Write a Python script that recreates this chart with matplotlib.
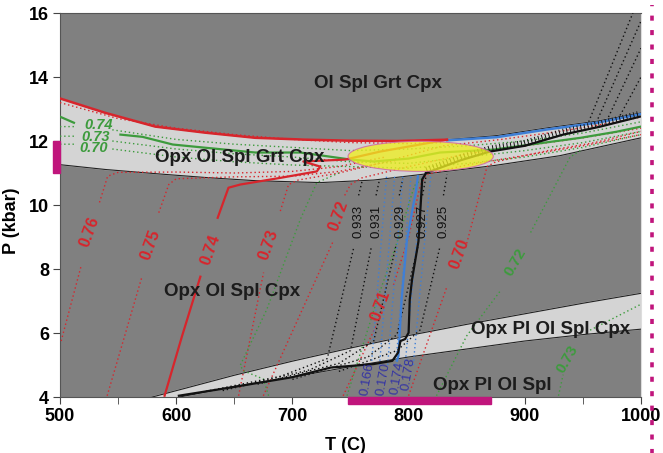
import numpy as np
import matplotlib
matplotlib.use("Agg")
import matplotlib.pyplot as plt
import matplotlib.patheffects as pe
from matplotlib.patches import Ellipse, Rectangle

plt.rcParams["font.family"] = ["Liberation Sans", "DejaVu Sans"]

BG = "#808080"
BAND = "#d4d4d4"
RED = "#d7252c"
GREEN = "#3d9b3d"
BLUE = "#3f7fd6"
LBL_BLUE = "#3434a4"
MAGENTA = "#c0157c"
TXT = "#1c1c1c"
nan = np.nan

# ---- phase field boundaries (T in C, P in kbar)
grt_top_T = [500, 539, 582, 625, 668, 713, 750, 790, 833, 876, 919, 962, 1000]
grt_top_P = [13.33, 12.88, 12.45, 12.26, 12.10, 12.04, 12.01, 12.0, 12.04, 12.17, 12.41, 12.62, 12.88]
grt_bot_T = [500, 539, 582, 625, 668, 724, 770, 810, 873, 930, 1000]
grt_bot_P = [11.26, 11.11, 10.98, 10.86, 10.76, 10.70, 10.78, 10.95, 11.23, 11.54, 12.10]

pl_top_T = [579.5, 650, 700, 750, 800, 850, 900, 950, 1000]
pl_top_P = [4.0, 4.68, 5.12, 5.53, 5.92, 6.27, 6.6, 6.93, 7.24]
pl_bot_T = [603, 650, 700, 750, 800, 850, 900, 950, 1000]
pl_bot_P = [4.0, 4.33, 4.62, 4.95, 5.25, 5.5, 5.75, 5.95, 6.12]

# ---- red isopleths (dotted), label gaps as nan
red_iso = {
    "0.76": ([501, 518, nan, 534, 541, 550, 600, 650, 700, 740, 780],
             [5.75, 8.07, nan, 10.08, 10.9, 11.02, 11.03, 11.0, 11.05, 11.2, 11.5]),
    "0.75": ([540.6, 570.7, nan, 585, 593.6, 600, 650, 700, 740, 790],
             [4.04, 7.78, nan, 9.76, 10.64, 10.82, 10.88, 10.9, 11.05, 11.4]),
    "0.73": ([653.7, 675.2, nan, 689.6, 696.7, 705, 740, 780, 830, 880, 930, 980, 1000],
             [4.04, 7.89, nan, 9.81, 10.64, 10.78, 11.0, 11.35, 11.85, 12.05, 12.3, 12.6, 12.75]),
    "0.72": ([675, 735, nan, 745, 750, 760, 800, 850, 900, 950, 1000],
             [4.04, 8.86, nan, 10.3, 10.64, 10.85, 11.2, 11.6, 11.85, 12.1, 12.4]),
    "0.71": ([743.7, 773, nan, 787, 800, 810, 815, 850, 900, 950, 1000],
             [4.04, 6.3, nan, 7.5, 9.0, 10.6, 10.95, 11.25, 11.55, 11.85, 12.2]),
    "0.70": ([800, 833, nan, 850, 867.5, 875, 920, 960, 1000],
             [4.04, 7.45, nan, 8.8, 11.2, 11.35, 11.7, 11.95, 12.3]),
}
red_top_T = [500, 550, 600, 650, 700, 750, 800, 830]
red_top_P = [13.2, 12.7, 12.4, 12.2, 12.05, 11.95, 11.92, 11.95]
red_lbl = {"0.76": (525, 9.17), "0.75": (577.6, 8.77), "0.74": (629.5, 8.61),
           "0.73": (679, 8.77), "0.72": (739.5, 9.67), "0.71": (775.6, 6.84),
           "0.70": (844, 8.46)}

# measured red solid contour
red_sol_T = [590, 605, 620.8, nan, 635.7, 645, 655.2, 690, 721, 724, 709.4, 745.5, 775.6, 833]
red_sol_P = [4.04, 5.9, 7.76, nan, 9.6, 10.54, 10.64, 10.85, 11.05, 11.2, 11.36, 11.42, 11.67, 12.04]
red_bound_T = [500, 539, 582, 625, 668, 713, 750, 790, 833]
red_bound_P = [13.33, 12.88, 12.45, 12.26, 12.10, 12.04, 12.01, 12.0, 12.04]

# ---- green isopleths
green_sol_T = [500, 512, nan, 552, 571, 597, 625, 668, 707, 750, 770, 800, 827, 873, 905, 948, 979, 1000]
green_sol_P = [12.76, 12.57, nan, 12.2, 12.13, 11.89, 11.79, 11.64, 11.64, 11.42, 11.36, 11.45, 11.64, 11.73, 11.89, 12.1, 12.29, 12.45]
green_band_T = [500, 512, nan, 545, 600, 650, 700, 750, 800, 850, 900, 950, 1000]
green_band_P = [
    [12.45, 12.45, nan, 12.35, 12.05, 11.9, 11.8, 11.7, 11.75, 11.85, 12.0, 12.25, 12.6],
    [12.15, 12.15, nan, 12.0, 11.75, 11.6, 11.5, 11.35, 11.3, 11.5, 11.7, 11.95, 12.3],
    [11.9, 11.9, nan, 11.75, 11.5, 11.35, 11.25, 11.2, 11.15, 11.3, 11.5, 11.8, 12.2],
]
green_iso = [
    ([679.5, 675, 658, 655, 678, 706.8, 721, 740], [4.04, 4.56, 4.82, 4.98, 6.74, 9.55, 10.7, 11.0]),
    ([747, 773, 790, 805, 815], [4.04, 7.05, 8.83, 10.6, 10.95]),
    ([824, 850, 878.8, nan, 905, 939, 950], [4.04, 5.91, 7.31, nan, 9.14, 11.5, 11.75]),
    ([929, 933, nan, 953, 1000], [4.04, 4.7, nan, 6.03, 6.9]),
]
green_lbl = {"0.72": (891.5, 8.2), "0.73": (937, 5.18)}
green_band_lbl = {"0.74": (533, 12.5), "0.73": (530.6, 12.13), "0.70": (529, 11.78)}

# ---- black isopleths (Mg#) and measured black contour
blk_iso = {
    "0.933": ([615, 690, 730, 753, nan, 757, 760], [4.1, 4.65, 5.2, 8.7, nan, 10.3, 10.75]),
    "0.931": ([640, 715, 750, 768, nan, 772, 775], [4.2, 4.85, 5.45, 8.7, nan, 10.3, 10.8]),
    "0.929": ([670, 740, 770, 789, nan, 792, 795], [4.4, 5.05, 5.75, 8.7, nan, 10.3, 10.82]),
    "0.927": ([700, 765, 790, 808, nan, 812, 815], [4.55, 5.25, 5.95, 8.7, nan, 10.3, 10.9]),
    "0.925": ([740, 790, 810, 827, nan, 830, 833], [4.8, 5.45, 6.1, 8.7, nan, 10.3, 10.95]),
}
blk_lbl_T = [756.7, 772, 792.7, 811.6, 829.7]
blk_steep = [([955, 993], [12.6, 16.0]), ([963, 1000], [12.7, 15.75]),
             ([972, 1000], [12.75, 14.9]), ([982, 1000], [12.8, 14.0])]
blk_sol_T = [602.3, 649, 700, 733, 770, 786, 791, 793, 797, 800, 801, 803, 808.5, 811.7, 815]
blk_sol_P = [4.04, 4.31, 4.62, 4.92, 5.03, 5.13, 5.39, 5.75, 5.81, 6.01, 7.05, 7.68, 8.87, 10.8, 11.0]
blk_hatch_T = [815, 845, 870, 900, 933, 965, 999]
blk_hatch_P = [11.0, 11.4, 11.67, 11.85, 12.2, 12.45, 12.76]

# ---- blue isopleths
blue_iso_T0 = [768, 775, 782, 789, 797, 804]
blue_iso_T1 = [781, 788, 795, 802, 812, 819]
blue_lbl = {"0.166": (765, 4.56), "0.170": (778, 4.56), "0.174": (790, 4.6), "0.178": (800, 4.7)}
blue_sol_T = [790, 791.3, 794, 798.5, 804, 806, 808]
blue_sol_P = [5.13, 5.29, 7.05, 8.87, 10.0, 10.35, 10.9]
blue_top_T = [833, 876, 919, 962, 1000]
blue_top_P = [12.02, 12.12, 12.36, 12.57, 12.84]

# ---- phase assemblage labels
fields = [("Ol Spl Grt Cpx", 774, 13.8), ("Opx Ol Spl Grt Cpx", 655, 11.5),
          ("Opx Ol Spl Cpx", 648.5, 7.3), ("Opx Pl Ol Spl Cpx", 922, 6.12),
          ("Opx Pl Ol Spl", 872, 4.37)]

# ---- estimated conditions
ellipse_c = (810.4, 11.52)
ellipse_wh = (125, 0.94)
t_range = (748, 871)
p_range = (11.0, 12.0)
bracket_T = 1009.5

fig = plt.figure(figsize=(6.63, 4.53), dpi=100)
ax = fig.add_axes([60 / 663, 56 / 453, 581 / 663, 384 / 453])
ax.set_facecolor(BG)
ax.set_xlim(500, 1000)
ax.set_ylim(4, 16)

# light fields
ax.fill(grt_top_T + grt_bot_T[::-1], grt_top_P + grt_bot_P[::-1], color=BAND, zorder=1)
ax.fill(pl_top_T + pl_bot_T[::-1], pl_top_P + pl_bot_P[::-1], color=BAND, zorder=1)
for T, P in [(grt_top_T, grt_top_P), (grt_bot_T, grt_bot_P), (pl_top_T, pl_top_P), (pl_bot_T, pl_bot_P)]:
    ax.plot(T, P, color="#222222", lw=0.8, zorder=2)

dot = (0, (1, 2))
for T, P in red_iso.values():
    ax.plot(T, P, color=RED, lw=1.0, ls=dot, zorder=3)
ax.plot(red_top_T, red_top_P, color=RED, lw=1.0, ls=dot, zorder=3)
for T, P in green_iso:
    ax.plot(T, P, color=GREEN, lw=1.0, ls=dot, zorder=3)
for P in green_band_P:
    ax.plot(green_band_T, P, color=GREEN, lw=1.0, ls=dot, zorder=3)
for T, P in blk_iso.values():
    ax.plot(T, P, color="#111111", lw=1.0, ls=dot, zorder=3)
for T, P in blk_steep:
    ax.plot(T, P, color="#111111", lw=1.0, ls=dot, zorder=3)
for t0, t1 in zip(blue_iso_T0, blue_iso_T1):
    ax.plot([t0, t1], [5.0, 10.9], color=BLUE, lw=1.0, ls=dot, zorder=3)

# solid measured contours
ax.plot(green_sol_T, green_sol_P, color=GREEN, lw=1.6, zorder=4)
ax.plot(blue_sol_T, blue_sol_P, color=BLUE, lw=1.6, zorder=4)
ax.plot(blue_top_T, blue_top_P, color=BLUE, lw=1.8, zorder=4)
ax.plot(red_bound_T, red_bound_P, color=RED, lw=1.8, zorder=4)
ax.plot(red_sol_T, red_sol_P, color=RED, lw=1.6, zorder=4)
ax.plot(blk_sol_T, blk_sol_P, color="#111111", lw=1.6, zorder=4)
ax.plot(blk_hatch_T, blk_hatch_P, color="#111111", lw=1.6, zorder=4,
        path_effects=[pe.Normal(),
                      pe.TickedStroke(spacing=2.6, angle=90, length=1.5, linewidth=0.7)])

ax.add_patch(Ellipse(ellipse_c, ellipse_wh[0], ellipse_wh[1], facecolor="#eeee22",
                     edgecolor="#d060a8", lw=0.8, alpha=0.78, zorder=5))

# text
for name, t, p in fields:
    ax.text(t, p, name, fontsize=13.5, fontweight="bold", color=TXT,
            ha="center", va="center", zorder=6)
for lbl, (t, p) in red_lbl.items():
    ax.text(t, p, lbl, fontsize=11.5, fontweight="bold", color=RED, rotation=70,
            ha="center", va="center", zorder=6)
for lbl, (t, p) in green_lbl.items():
    ax.text(t, p, lbl, fontsize=11, fontweight="bold", color=GREEN, rotation=60,
            ha="center", va="center", zorder=6)
for lbl, (t, p) in green_band_lbl.items():
    ax.text(t, p, lbl, fontsize=10.5, fontweight="bold", style="italic", color=GREEN,
            ha="center", va="center", zorder=6)
for lbl, t in zip(blk_iso.keys(), blk_lbl_T):
    ax.text(t, 9.5, lbl, fontsize=9.5, color="#111111", rotation=90,
            ha="center", va="center", zorder=6)
for lbl, (t, p) in blue_lbl.items():
    ax.text(t, p, lbl, fontsize=9.5, color=LBL_BLUE, rotation=80,
            ha="center", va="center", zorder=6)

# estimate markers outside the frame
ax.add_patch(Rectangle((t_range[0], -0.019), t_range[1] - t_range[0], 0.019,
                       transform=ax.get_xaxis_transform(), color=MAGENTA,
                       clip_on=False, zorder=7))
ax.add_patch(Rectangle((-0.012, p_range[0]), 0.012, p_range[1] - p_range[0],
                       transform=ax.get_yaxis_transform(), color=MAGENTA,
                       clip_on=False, zorder=7))
ax.plot([bracket_T, bracket_T], [-0.15, 1.02], transform=ax.get_xaxis_transform(),
        color=MAGENTA, lw=2.6, ls=(0, (1.4, 2.6)), solid_capstyle="butt",
        dash_capstyle="butt", clip_on=False)

# axes
ax.set_xticks(range(500, 1001, 100))
ax.set_xticks(range(550, 1000, 100), minor=True)
ax.set_yticks(range(4, 17, 2))
ax.tick_params(which="both", direction="out", length=5, color="#444444",
               labelsize=13, pad=3)
for lbl in ax.get_xticklabels() + ax.get_yticklabels():
    lbl.set_fontweight("bold")
for s in ["left", "bottom", "top"]:
    ax.spines[s].set_color("#555555")
ax.spines["right"].set_color("#dddddd")
ax.set_xlabel("T (C)", fontsize=13, fontweight="bold")
ax.set_ylabel("P (kbar)", fontsize=13, fontweight="bold")
ax.xaxis.set_label_coords(0.492, -0.104)
ax.yaxis.set_label_coords(-0.068, 0.46)

fig.savefig("out.png", dpi=100)
